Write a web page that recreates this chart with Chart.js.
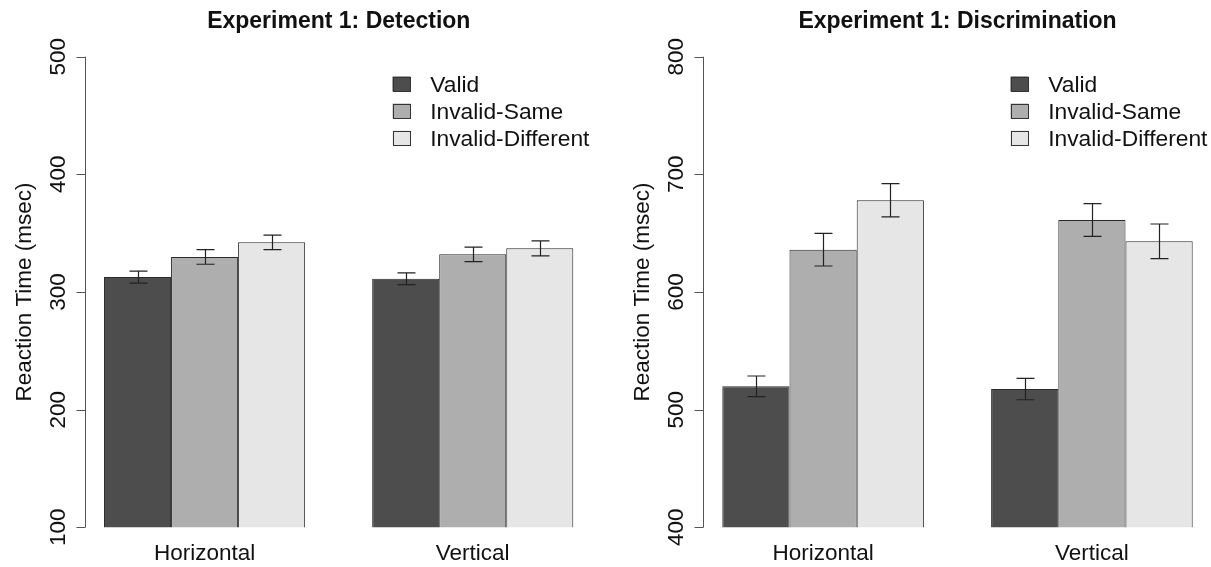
<!DOCTYPE html>
<html>
<head>
<meta charset="utf-8">
<script src="https://cdn.jsdelivr.net/npm/chart.js@4/dist/chart.umd.min.js"></script>
<style>
  html, body { margin: 0; padding: 0; background: #fff; overflow: hidden; }
  #wrap { position: relative; width: 1211px; height: 567px; overflow: hidden; background: #fff; }
  canvas { position: absolute; top: 0; }
  #c1 { left: 0; }
  #c2 { left: 606px; }
</style>
</head>
<body>
<div id="wrap">
  <canvas id="c1" width="620" height="567"></canvas>
  <canvas id="c2" width="640" height="567"></canvas>
</div>
<script>
// Cue orientation conditions and cue validity series
const conditions = ['Horizontal', 'Vertical'];
const seriesNames = ['Valid', 'Invalid-Same', 'Invalid-Different'];
const barColors = ['#4D4D4D', '#AEAEAE', '#E6E6E6'];

// Experiment 1: Detection — mean RT and error bar half-widths (msec)
const detectionValid = [312.7, 311.3];
const detectionSame = [329.8, 332.0];
const detectionDiff = [342.2, 337.1];
const detectionValidErr = [5.1, 5.0];
const detectionSameErr = [6.2, 6.2];
const detectionDiffErr = [6.1, 6.4];
const detectionTicks = [100, 200, 300, 400, 500];

// Experiment 1: Discrimination — mean RT and error bar half-widths (msec)
const discrimValid = [519.8, 517.5];
const discrimSame = [636.0, 661.2];
const discrimDiff = [678.0, 643.1];
const discrimValidErr = [8.8, 9.1];
const discrimSameErr = [13.9, 14.0];
const discrimDiffErr = [14.2, 14.7];
const discrimTicks = [400, 500, 600, 700, 800];

const FONT = "'Liberation Sans', Arial, Helvetica, sans-serif";
const TEXT = '#111';

// Draws the R-style frame: error bars, left axis, labels, legend, title
const panelDecor = {
  id: 'panelDecor',
  afterDatasetsDraw(chart, args, opts) {
    const { ctx, chartArea: a, scales: { x, y } } = chart;
    const unit = (a.right - a.left) / 8;          // one bar width
    const axisX = Math.round(a.left + 0.22 * unit) + 0.5;
    const plotRight = a.right - 0.22 * unit;
    const ticks = opts.ticks;

    ctx.save();

    // error bars
    ctx.strokeStyle = '#222';
    ctx.lineWidth = 1.2;
    chart.data.datasets.forEach((ds, i) => {
      const meta = chart.getDatasetMeta(i);
      meta.data.forEach((bar, j) => {
        const v = ds.data[j], e = ds.errors[j];
        const yt = y.getPixelForValue(v + e);
        const yb = y.getPixelForValue(v - e);
        const cx = Math.round(bar.x) + 0.5;
        const cap = 9;
        ctx.beginPath();
        ctx.moveTo(cx, yt); ctx.lineTo(cx, yb);
        ctx.moveTo(cx - cap, yt); ctx.lineTo(cx + cap, yt);
        ctx.moveTo(cx - cap, yb); ctx.lineTo(cx + cap, yb);
        ctx.stroke();
      });
    });

    // y axis line and tick marks
    ctx.strokeStyle = '#555';
    ctx.lineWidth = 1;
    const y0 = y.getPixelForValue(ticks[0]);
    const y1 = y.getPixelForValue(ticks[ticks.length - 1]);
    ctx.beginPath();
    ctx.moveTo(axisX, y0); ctx.lineTo(axisX, y1);
    ticks.forEach(t => {
      const py = Math.round(y.getPixelForValue(t)) + 0.5;
      ctx.moveTo(axisX, py); ctx.lineTo(axisX - 9, py);
    });
    ctx.stroke();

    // rotated tick labels
    ctx.fillStyle = TEXT;
    ctx.font = '22.5px ' + FONT;
    ctx.textAlign = 'center';
    ctx.textBaseline = 'alphabetic';
    ticks.forEach(t => {
      ctx.save();
      ctx.translate(axisX - 21, y.getPixelForValue(t));
      ctx.rotate(-Math.PI / 2);
      ctx.fillText(String(t), 0, 0);
      ctx.restore();
    });

    // y axis title
    ctx.save();
    ctx.translate(axisX - 55, (a.top + a.bottom) / 2);
    ctx.rotate(-Math.PI / 2);
    ctx.fillText(opts.yTitle, 0, 0);
    ctx.restore();

    // category labels
    chart.data.labels.forEach((lab, i) => {
      ctx.fillText(lab, x.getPixelForValue(i), a.bottom + 33);
    });

    // panel title
    ctx.font = 'bold 23px ' + FONT;
    ctx.fillText(opts.title, (axisX + plotRight) / 2, a.top - 29);

    // legend
    ctx.font = '22.8px ' + FONT;
    ctx.textAlign = 'left';
    const boxX = axisX + 307;
    chart.data.datasets.forEach((ds, i) => {
      const cy = a.top + 27.3 + i * 27;
      ctx.fillStyle = ds.backgroundColor;
      ctx.fillRect(boxX, cy - 7.5, 18, 15);
      ctx.strokeStyle = '#333';
      ctx.lineWidth = 1;
      ctx.strokeRect(Math.round(boxX) + 0.5, Math.round(cy - 7.5) + 0.5, 17, 14);
      ctx.fillStyle = TEXT;
      ctx.fillText(ds.label, axisX + 344.7, cy + 0.358 * 22.8);
    });

    ctx.restore();
  }
};

function makePanel(id, title, ticks, values, errors, padding) {
  return new Chart(document.getElementById(id), {
    type: 'bar',
    data: {
      labels: conditions,
      datasets: seriesNames.map((name, i) => ({
        label: name,
        data: values[i],
        errors: errors[i],
        backgroundColor: barColors[i],
        borderColor: '#2a2a2a',
        borderWidth: 1,
        borderSkipped: 'start',
        categoryPercentage: 0.75,
        barPercentage: 1
      }))
    },
    options: {
      responsive: false,
      animation: false,
      events: [],
      layout: { padding },
      plugins: {
        legend: { display: false },
        title: { display: false },
        tooltip: { enabled: false },
        panelDecor: { title, ticks, yTitle: 'Reaction Time (msec)' }
      },
      scales: {
        x: { display: false, offset: true },
        y: { display: false, min: ticks[0], max: ticks[ticks.length - 1] }
      }
    },
    plugins: [panelDecor]
  });
}

makePanel('c1', 'Experiment 1: Detection', detectionTicks,
  [detectionValid, detectionSame, detectionDiff],
  [detectionValidErr, detectionSameErr, detectionDiffErr],
  { left: 70.5, right: 13.2, top: 56.7, bottom: 39.7 });

makePanel('c2', 'Experiment 1: Discrimination', discrimTicks,
  [discrimValid, discrimSame, discrimDiff],
  [discrimValidErr, discrimSameErr, discrimDiffErr],
  { left: 82.7, right: 19.7, top: 56.7, bottom: 39.7 });
</script>
</body>
</html>
